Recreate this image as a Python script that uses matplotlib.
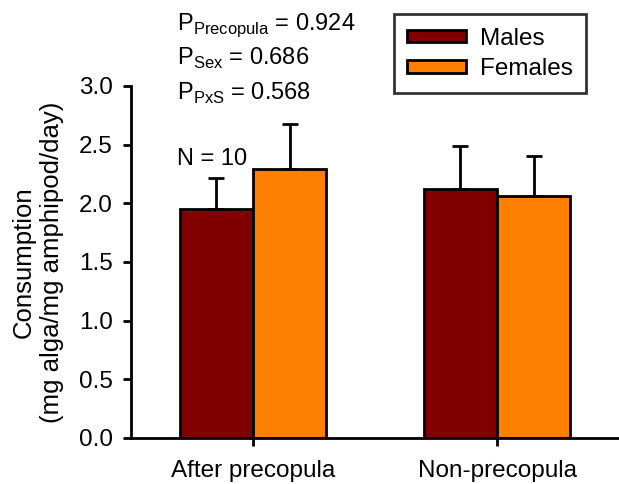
import matplotlib.pyplot as plt
import numpy as np

plt.rcParams['font.family'] = ['Liberation Sans', 'DejaVu Sans']
plt.rcParams['mathtext.fontset'] = 'custom'
plt.rcParams['mathtext.rm'] = 'Liberation Sans'

groups = ["After precopula", "Non-precopula"]
males = [1.95, 2.12]
males_err = [0.27, 0.37]
females = [2.29, 2.06]
females_err = [0.39, 0.34]

fig = plt.figure(figsize=(6.19, 4.84), dpi=100)
ax = fig.add_axes([131 / 619, (484 - 438) / 484, (619 - 131) / 619, (438 - 86) / 484])

x = np.arange(len(groups))
w = 0.3
err_kw = dict(ecolor='black', elinewidth=2, capsize=6, capthick=2)
ax.bar(x - w / 2, males, w, yerr=[[0] * 2, males_err], color='#800000',
       edgecolor='black', linewidth=2, error_kw=err_kw, label='Males')
ax.bar(x + w / 2, females, w, yerr=[[0] * 2, females_err], color='#ff8000',
       edgecolor='black', linewidth=2, error_kw=err_kw, label='Females')

ax.set_xlim(-0.5, 1.5)
ax.set_ylim(0, 3.0)
ax.set_yticks(np.arange(0, 3.01, 0.5))
ax.set_yticklabels([f'{v:.1f}' for v in np.arange(0, 3.01, 0.5)])
ax.set_xticks(x)
ax.set_xticklabels(groups)
for s in ['top', 'right']:
    ax.spines[s].set_visible(False)
for s in ['left', 'bottom']:
    ax.spines[s].set_linewidth(2)
ax.tick_params(direction='out', width=2, length=6, labelsize=17.5)
ax.tick_params(axis='y', pad=7)
ax.tick_params(axis='x', pad=10)
ax.set_ylabel('Consumption\n(mg alga/mg amphipod/day)', fontsize=18.5, labelpad=11,
              linespacing=1.2)

ax.text(-0.31, 3.478, r'P$_{\mathregular{Precopula}}$ = 0.924', fontsize=17)
ax.text(-0.31, 3.18, r'P$_{\mathregular{Sex}}$ = 0.686', fontsize=17)
ax.text(-0.31, 2.88, r'P$_{\mathregular{PxS}}$ = 0.568', fontsize=17)
ax.text(-0.31, 2.327, 'N = 10', fontsize=17)

leg = ax.legend(loc='upper right', bbox_to_anchor=(0.958, 1.2385), fontsize=17.5,
                frameon=True, fancybox=False, edgecolor='black',
                handlelength=2.4, handleheight=0.4, borderpad=0.55,
                labelspacing=0.35, handletextpad=0.6)
leg.get_frame().set_linewidth(2)

fig.savefig('out.png', dpi=100)
